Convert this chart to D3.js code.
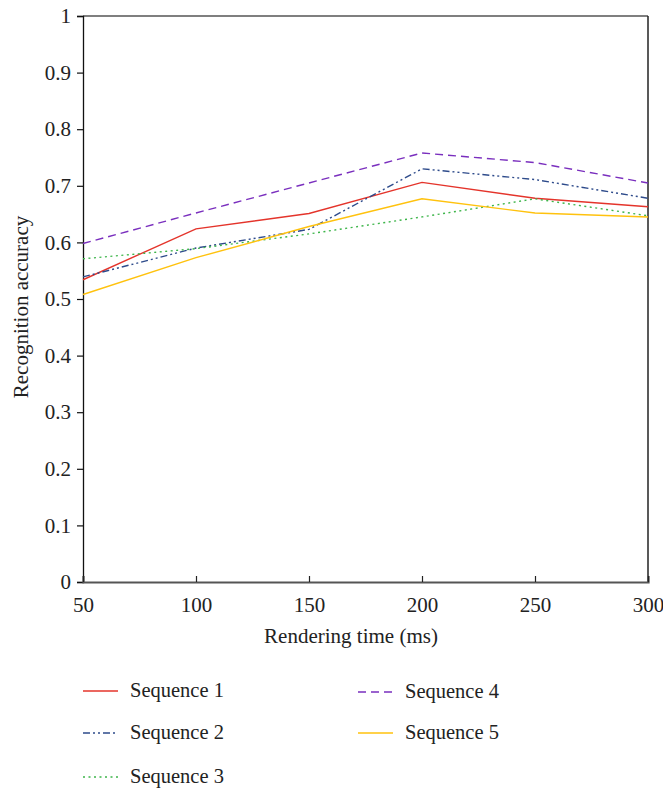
<!DOCTYPE html>
<html>
<head>
<meta charset="utf-8">
<script src="https://cdn.jsdelivr.net/npm/d3@7/dist/d3.min.js"></script>
<style>
  html, body { margin: 0; padding: 0; background: #fff; }
  svg { display: block; font-family: "Liberation Serif", "DejaVu Serif", serif; }
</style>
</head>
<body>
<svg id="chart" width="663" height="792"></svg>
<script>
// Rendering time (ms) on the x axis
const times = [50, 100, 150, 200, 250, 300];

// Recognition accuracy for each sequence
const seq1 = [0.534, 0.624, 0.651, 0.706, 0.678, 0.663];
const seq2 = [0.539, 0.590, 0.623, 0.730, 0.711, 0.678];
const seq3 = [0.571, 0.589, 0.615, 0.645, 0.677, 0.647];
const seq4 = [0.598, 0.652, 0.705, 0.758, 0.741, 0.705];
const seq5 = [0.508, 0.573, 0.628, 0.677, 0.652, 0.645];

const seriesNames = ["Sequence 1", "Sequence 2", "Sequence 3", "Sequence 4", "Sequence 5"];
const yTicks = [0, 0.1, 0.2, 0.3, 0.4, 0.5, 0.6, 0.7, 0.8, 0.9, 1];

const styles = [
  { color: "#e4342b", dash: null },
  { color: "#2e4b8b", dash: "7,3,2,3,2,3" },
  { color: "#3db54a", dash: "2,3.5" },
  { color: "#7a2fbe", dash: "8,5" },
  { color: "#ffc20e", dash: null }
];

const series = [seq1, seq2, seq3, seq4, seq5].map((vals, i) => ({
  name: seriesNames[i],
  values: vals.map((v, j) => ({ x: times[j], y: v })),
  style: styles[i]
}));

const svg = d3.select("#chart");
const plotL = 83, plotR = 648, plotT = 16, plotB = 582;
const fontFam = "Liberation Serif, serif";

const x = d3.scaleLinear().domain([50, 300]).range([plotL, plotR]);
const y = d3.scaleLinear().domain([0, 1]).range([plotB, plotT]);

// frame: top and right borders
svg.append("line").attr("x1", plotL).attr("x2", plotR).attr("y1", plotT).attr("y2", plotT)
  .attr("stroke", "#555").attr("stroke-width", 1.5);
svg.append("line").attr("x1", plotR).attr("x2", plotR).attr("y1", plotT).attr("y2", plotB)
  .attr("stroke", "#222").attr("stroke-width", 1.5);

// y axis
const yAxis = svg.append("g").attr("transform", `translate(${plotL},0)`)
  .call(d3.axisLeft(y).tickValues(yTicks).tickSize(6).tickPadding(6)
    .tickFormat(d => d === 0 ? "0" : d === 1 ? "1" : d3.format(".1f")(d)));
yAxis.attr("font-size", 21).attr("font-family", fontFam);
yAxis.select(".domain").attr("stroke", "#111").attr("stroke-width", 1.3);
yAxis.selectAll(".tick line").attr("stroke", "#111").attr("stroke-width", 1.2);
yAxis.selectAll("text").attr("fill", "#222");

// x axis with inward ticks
const xAxis = svg.append("g").attr("transform", `translate(0,${plotB})`)
  .call(d3.axisBottom(x).tickValues(times).tickSize(-6).tickPadding(15).tickFormat(d3.format("d")));
xAxis.attr("font-size", 21).attr("font-family", fontFam);
xAxis.select(".domain").attr("stroke", "#555").attr("stroke-width", 2.2);
xAxis.selectAll(".tick line").attr("stroke", "#222").attr("stroke-width", 1.2);
xAxis.selectAll("text").attr("fill", "#222");

// axis titles
svg.append("text").attr("x", 351).attr("y", 643)
  .attr("text-anchor", "middle").attr("font-size", 21).attr("fill", "#222")
  .text("Rendering time (ms)");
svg.append("text")
  .attr("transform", `translate(28,307) rotate(-90)`)
  .attr("text-anchor", "middle").attr("font-size", 21).attr("fill", "#222")
  .text("Recognition accuracy");

// lines
const line = d3.line().x(d => x(d.x)).y(d => y(d.y));
svg.append("g").selectAll("path").data(series).join("path")
  .attr("d", d => line(d.values))
  .attr("fill", "none")
  .attr("stroke", d => d.style.color)
  .attr("stroke-width", 1.4)
  .attr("stroke-dasharray", d => d.style.dash);

// legend: two columns
const legendPos = [
  { lx: 83, ly: 691 }, { lx: 83, ly: 733 }, { lx: 83, ly: 777 },
  { lx: 358, ly: 692 }, { lx: 358, ly: 733 }
];
const lg = svg.append("g").selectAll("g").data(series).join("g")
  .attr("transform", (d, i) => `translate(${legendPos[i].lx},${legendPos[i].ly})`);
lg.append("line").attr("x1", 0).attr("x2", 35).attr("y1", 0).attr("y2", 0)
  .attr("stroke", d => d.style.color).attr("stroke-width", 1.3)
  .attr("stroke-dasharray", d => d.style.dash);
lg.append("text").attr("x", 47).attr("y", 6).attr("font-size", 20.5).attr("fill", "#222")
  .text(d => d.name);
</script>
</body>
</html>
